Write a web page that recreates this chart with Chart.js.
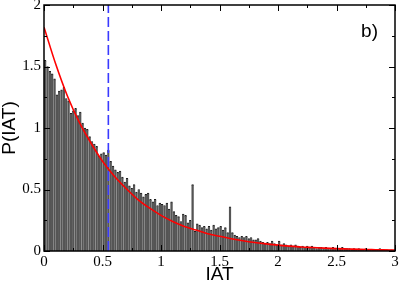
<!DOCTYPE html>
<html>
<head>
<meta charset="utf-8">
<script src="https://cdn.jsdelivr.net/npm/chart.js@4.4.1/dist/chart.umd.min.js"></script>
<style>
  html, body { margin: 0; padding: 0; background: #fff; }
  #wrap { width: 399px; height: 284px; }
</style>
</head>
<body>
<div id="wrap"><canvas id="iatChart" width="399" height="284"></canvas></div>
<script>
// histogram bins (width 0.02, from 0 to 3)
const binWidth = 0.02;
const histValues = [
  1.55, 1.50, 1.46, 1.44, 1.40, 1.27, 1.30, 1.31, 1.33, 1.24,
  1.22, 1.12, 1.14, 1.16, 1.10, 1.13, 1.04, 1.00, 0.99, 0.93,
  0.89, 0.87, 0.85, 0.77, 0.79, 0.80, 0.78, 0.82, 0.73, 0.69,
  0.66, 0.64, 0.65, 0.60, 0.56, 0.59, 0.53, 0.51, 0.54, 0.48,
  0.50, 0.47, 0.44, 0.46, 0.47, 0.42, 0.40, 0.42, 0.37, 0.39,
  0.38, 0.37, 0.39, 0.34, 0.40, 0.32, 0.29, 0.28, 0.24, 0.30,
  0.29, 0.23, 0.25, 0.54, 0.16, 0.22, 0.21, 0.19, 0.20, 0.18,
  0.20, 0.17, 0.21, 0.18, 0.19, 0.20, 0.17, 0.19, 0.15, 0.36,
  0.15, 0.13, 0.12, 0.11, 0.12, 0.11, 0.12, 0.10, 0.11, 0.09,
  0.09, 0.10, 0.08, 0.07, 0.06, 0.07, 0.06, 0.08, 0.06, 0.05,
  0.08, 0.05, 0.06, 0.05, 0.04, 0.05, 0.04, 0.05, 0.04, 0.03,
  0.04, 0.03, 0.04, 0.03, 0.04, 0.03, 0.02, 0.03, 0.03, 0.02,
  0.03, 0.02, 0.02, 0.03, 0.02, 0.02, 0.02, 0.03, 0.02, 0.02,
  0.02, 0.01, 0.02, 0.01, 0.02, 0.01, 0.01, 0.02, 0.01, 0.01,
  0.01, 0.01, 0.01, 0.02, 0.01, 0.01, 0.01, 0.005, 0.01, 0.005
];

// red fit curve
const fitX = [0, 0.1, 0.2, 0.3, 0.4, 0.5, 0.6, 0.7, 0.8, 0.9, 1.0,
  1.1, 1.2, 1.3, 1.4, 1.5, 1.6, 1.7, 1.8, 1.9, 2.0,
  2.1, 2.2, 2.3, 2.4, 2.5, 2.6, 2.7, 2.8, 2.9, 3.0];
const fitY = [1.82, 1.52, 1.26, 1.05, 0.88, 0.73, 0.61, 0.51, 0.42, 0.35, 0.29,
  0.24, 0.20, 0.17, 0.14, 0.12, 0.10, 0.083, 0.069, 0.058, 0.048,
  0.040, 0.033, 0.028, 0.023, 0.019, 0.016, 0.013, 0.011, 0.009, 0.008];

// mean IAT (blue dashed line)
const meanIAT = 0.55;

const xTicks = [0, 0.5, 1, 1.5, 2, 2.5, 3];
const yTicks = [0, 0.5, 1, 1.5, 2];

const histData = histValues.map((v, i) => ({ x: (i + 0.5) * binWidth, y: v }));
const fitData = fitX.map((x, i) => ({ x: x, y: fitY[i] }));

// frame + inward ticks on all four sides (xmgrace look)
const framePlugin = {
  id: "frame",
  afterDraw(chart) {
    const ctx = chart.ctx;
    const a = chart.chartArea;
    const sx = chart.scales.x;
    const sy = chart.scales.y;
    ctx.save();
    ctx.strokeStyle = "#000";
    ctx.lineWidth = 1.5;
    ctx.strokeRect(a.left, a.top, a.right - a.left, a.bottom - a.top);
    ctx.lineWidth = 1;
    ctx.beginPath();
    const tickX = (v, len) => {
      const p = Math.round(sx.getPixelForValue(v)) + 0.5;
      ctx.moveTo(p, a.bottom); ctx.lineTo(p, a.bottom - len);
      ctx.moveTo(p, a.top); ctx.lineTo(p, a.top + len);
    };
    const tickY = (v, len) => {
      const p = Math.round(sy.getPixelForValue(v)) + 0.5;
      ctx.moveTo(a.left, p); ctx.lineTo(a.left + len, p);
      ctx.moveTo(a.right, p); ctx.lineTo(a.right - len, p);
    };
    xTicks.forEach((v, i) => {
      tickX(v, 6);
      if (i < xTicks.length - 1) tickX((v + xTicks[i + 1]) / 2, 3);
    });
    yTicks.forEach((v, i) => {
      tickY(v, 6);
      if (i < yTicks.length - 1) tickY((v + yTicks[i + 1]) / 2, 3);
    });
    ctx.stroke();

    // panel letter
    ctx.fillStyle = "#000";
    ctx.font = "19px 'Liberation Sans', Arial, sans-serif";
    ctx.textAlign = "right";
    ctx.textBaseline = "alphabetic";
    ctx.fillText("b)", a.right - 17, a.top + 32);
    ctx.restore();
  },
};

const tickFont = { family: "'Liberation Serif', 'Times New Roman', serif", size: 15 };
const titleFont = { family: "'Liberation Sans', Arial, sans-serif", size: 19, lineHeight: 1 };

const ctx = document.getElementById("iatChart").getContext("2d");
const iatChart = new Chart(ctx, {
  type: "bar",
  data: {
    datasets: [
      {
        type: "line",
        data: [{ x: meanIAT, y: 0 }, { x: meanIAT, y: 2 }],
        borderColor: "#3a3aff",
        borderWidth: 1.6,
        borderDash: [10, 4],
        pointRadius: 0,
        order: 1,
      },
      {
        type: "line",
        data: fitData,
        borderColor: "#ff0000",
        borderWidth: 1.6,
        pointRadius: 0,
        cubicInterpolationMode: "monotone",
        order: 2,
      },
      {
        data: histData,
        backgroundColor: "#555555",
        borderColor: "#1e1e1e",
        borderWidth: { top: 1, left: 0, right: 0, bottom: 0 },
        borderSkipped: false,
        barPercentage: 1,
        categoryPercentage: 1,
        order: 3,
      },
    ],
  },
  options: {
    responsive: false,
    animation: false,
    layout: { padding: { left: 0, right: 4, top: 5, bottom: 0 } },
    plugins: {
      legend: { display: false },
      tooltip: { enabled: false },
    },
    scales: {
      x: {
        type: "linear",
        min: 0,
        max: 3,
        offset: false,
        grid: { display: false, drawTicks: false },
        border: { display: false },
        afterBuildTicks: (s) => { s.ticks = xTicks.map((v) => ({ value: v })); },
        afterFit: (s) => { s.height = 33; s.paddingLeft = 0; s.paddingRight = 0; },
        ticks: {
          color: "#000",
          padding: 2,
          maxRotation: 0,
          font: tickFont,
          callback: (v) => String(v),
        },
        title: { display: true, text: "IAT", color: "#000", padding: 0, font: titleFont },
      },
      y: {
        min: 0,
        max: 2,
        grid: { display: false, drawTicks: false },
        border: { display: false },
        afterBuildTicks: (s) => { s.ticks = yTicks.map((v) => ({ value: v })); },
        afterFit: (s) => { s.width = 44; s.paddingTop = 0; s.paddingBottom = 0; },
        ticks: {
          color: "#000",
          padding: 3,
          font: tickFont,
          callback: (v) => String(v),
        },
        title: { display: true, text: "P(IAT)", color: "#000", padding: 0, font: titleFont },
      },
    },
  },
  plugins: [framePlugin],
});
</script>
</body>
</html>
